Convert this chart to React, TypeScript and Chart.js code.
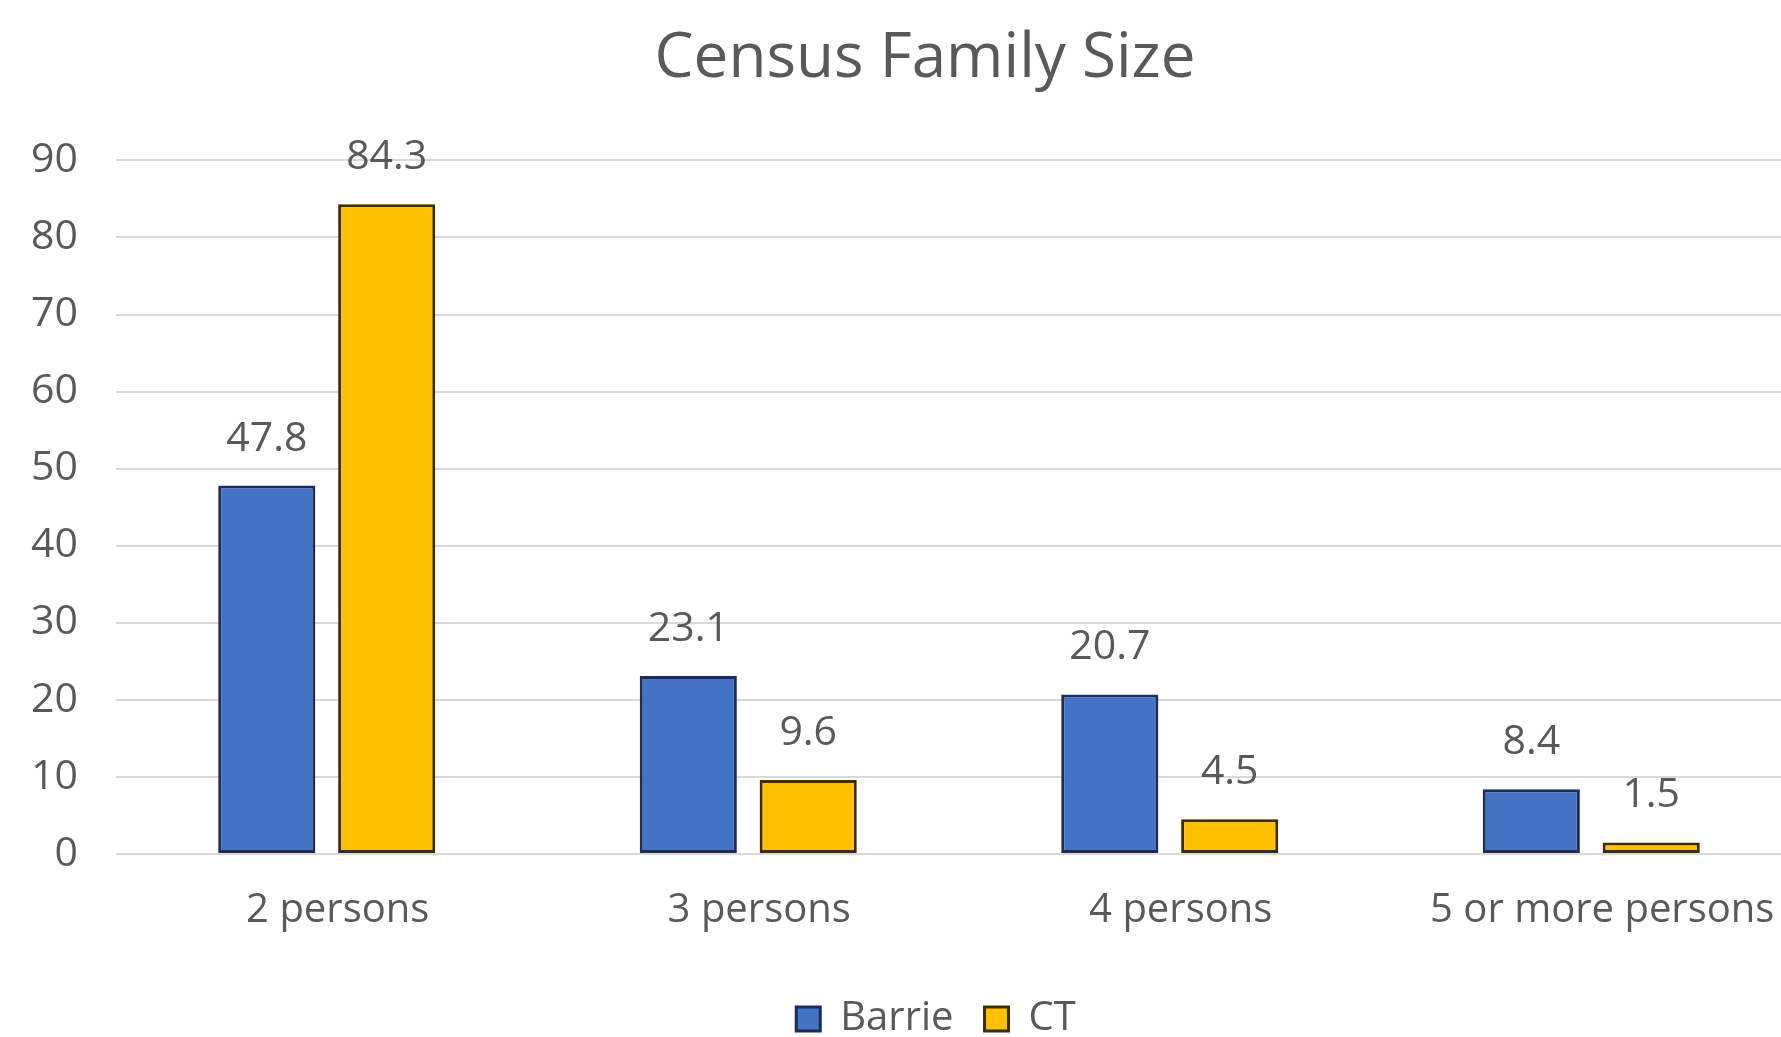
import React, { useEffect, useRef } from "react";
import { Chart, registerables } from "chart.js";

Chart.register(...registerables);

const categories = ["2 persons", "3 persons", "4 persons", "5 or more persons"];
const barrieValues = [47.8, 23.1, 20.7, 8.4];
const ctValues = [84.3, 9.6, 4.5, 1.5];
const seriesNames = ["Barrie", "CT"];
const titleText = "Census Family Size";
const yMin = 0;
const yMax = 90;
const yStep = 10;

const FONT = "'Open Sans', 'Noto Sans', sans-serif";
const TEXT = "#595959";

const dataLabelPlugin = {
  id: "dataLabels",
  afterDatasetsDraw(chart: any) {
    const ctx = chart.ctx;
    ctx.save();
    ctx.font = `41px ${FONT}`;
    ctx.fillStyle = TEXT;
    ctx.textAlign = "center";
    ctx.textBaseline = "alphabetic";
    chart.data.datasets.forEach((ds: any, i: number) => {
      const meta = chart.getDatasetMeta(i);
      meta.data.forEach((el: any, j: number) => {
        ctx.fillText(String(ds.data[j]), el.x, el.y - 35);
      });
    });
    ctx.restore();
  },
};

// Nudge title and legend horizontally to match the reference centering.
const nudgePlugin = {
  id: "nudge",
  afterLayout(chart: any) {
    const t = chart.titleBlock;
    if (t) {
      t.left += 14;
      t.right += 14;
    }
    const l = chart.legend;
    if (l) {
      l.left += 25;
      l.right += 25;
    }
  },
};

export default function App() {
  const ref = useRef<HTMLCanvasElement | null>(null);
  useEffect(() => {
    if (!ref.current) return;
    const chart = new Chart(ref.current, {
      type: "bar",
      data: {
        labels: categories,
        datasets: [
          {
            label: seriesNames[0],
            data: barrieValues,
            backgroundColor: "#4472C4",
            borderColor: "#1B2D52",
            borderWidth: 3,
            borderSkipped: false,
            categoryPercentage: 0.569,
            barPercentage: 0.81,
          },
          {
            label: seriesNames[1],
            data: ctValues,
            backgroundColor: "#FFC000",
            borderColor: "#3A2C05",
            borderWidth: 3,
            borderSkipped: false,
            categoryPercentage: 0.569,
            barPercentage: 0.81,
          },
        ],
      },
      options: {
        responsive: false,
        animation: false,
        layout: { padding: { left: 20, right: 48, top: 0, bottom: -12 } },
        plugins: {
          title: {
            display: true,
            text: titleText,
            color: TEXT,
            font: { family: FONT, size: 62, weight: "normal" },
            padding: { top: 22, bottom: 64 },
          },
          legend: {
            position: "bottom",
            labels: {
              color: TEXT,
              font: { family: FONT, size: 40 },
              boxWidth: 24,
              boxHeight: 24,
              padding: 31,
            },
          },
          tooltip: { enabled: false },
        },
        scales: {
          x: {
            grid: { display: false },
            border: { display: false },
            ticks: {
              color: TEXT,
              font: { family: FONT, size: 40 },
              padding: 25,
              labelOffset: 11,
              maxRotation: 0,
              autoSkip: false,
            },
            afterFit: (scale: any) => {
              scale.height += 8;
            },
          },
          y: {
            min: yMin,
            max: yMax,
            grid: { color: "#D9D9D9", lineWidth: 2, drawTicks: false },
            border: { display: false },
            ticks: {
              stepSize: yStep,
              color: TEXT,
              font: { family: FONT, size: 41 },
              padding: 38,
            },
            afterFit: (scale: any) => {
              scale.width = 96;
            },
          },
        },
      },
      plugins: [dataLabelPlugin, nudgePlugin],
    });
    return () => chart.destroy();
  }, []);

  return (
    <div
      style={{
        position: "fixed",
        left: 0,
        top: 0,
        width: 1781,
        height: 1037,
        overflow: "hidden",
        background: "#fff",
      }}
    >
      <canvas ref={ref} width={1850} height={1037} style={{ width: 1850, height: 1037, display: "block" }} />
    </div>
  );
}
